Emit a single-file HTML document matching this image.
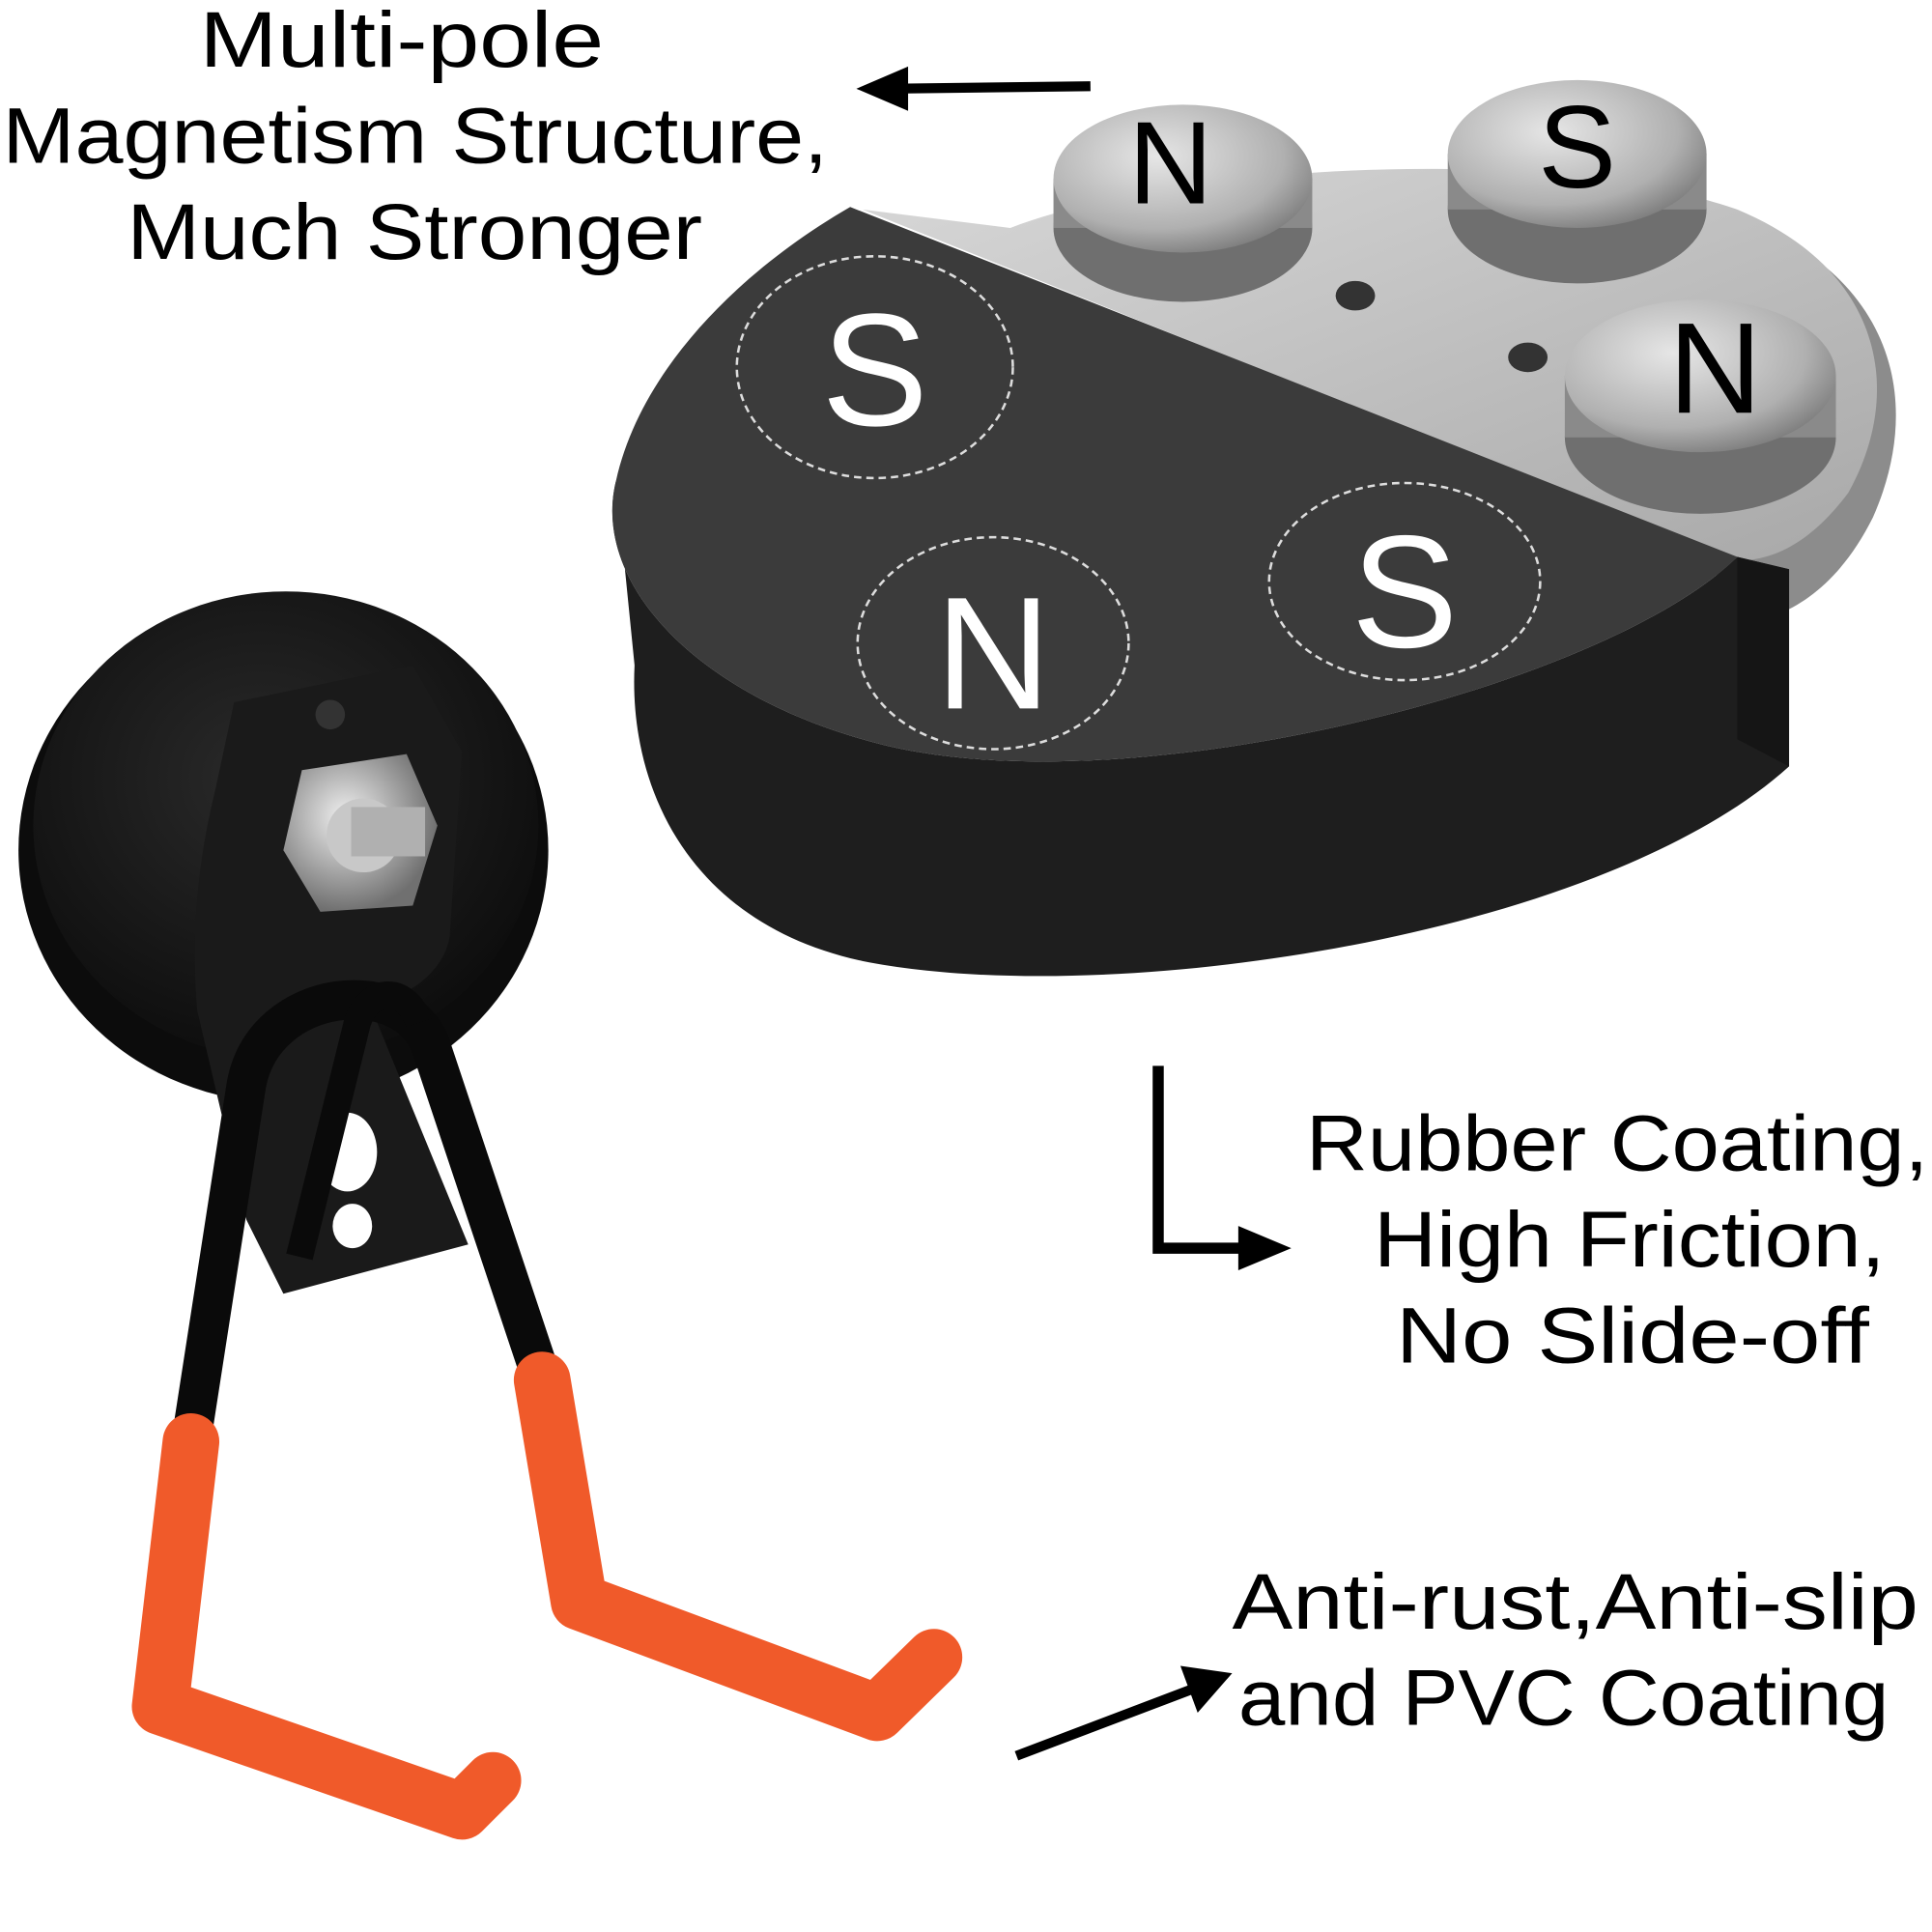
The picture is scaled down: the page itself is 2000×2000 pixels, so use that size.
<!DOCTYPE html>
<html><head><meta charset="utf-8"><style>
html,body{margin:0;padding:0;background:#fff;width:2000px;height:2000px;overflow:hidden}
svg{display:block}
text{font-family:"Liberation Sans",sans-serif;fill:#000}
</style></head><body>
<svg width="2000" height="2000" viewBox="0 0 1568 1568" xmlns="http://www.w3.org/2000/svg">
<defs>
<radialGradient id="mg" cx="0.4" cy="0.35" r="0.7"><stop offset="0" stop-color="#e6e6e6"/><stop offset="0.7" stop-color="#b0b0b0"/><stop offset="1" stop-color="#7a7a7a"/></radialGradient>
<linearGradient id="base" x1="0" y1="0" x2="1" y2="1"><stop offset="0" stop-color="#d8d8d8"/><stop offset="1" stop-color="#a8a8a8"/></linearGradient>
<radialGradient id="disc" cx="0.45" cy="0.4" r="0.6"><stop offset="0" stop-color="#2a2a2a"/><stop offset="1" stop-color="#0e0e0e"/></radialGradient>
<radialGradient id="nut" cx="0.4" cy="0.4" r="0.6"><stop offset="0" stop-color="#f0f0f0"/><stop offset="1" stop-color="#707070"/></radialGradient>
</defs>

<!-- top text -->
<text x="162" y="54" font-size="64" textLength="328" lengthAdjust="spacingAndGlyphs">Multi-pole</text>
<text x="2" y="132" font-size="64" textLength="670" lengthAdjust="spacingAndGlyphs">Magnetism Structure,</text>
<text x="103" y="210" font-size="64" textLength="467" lengthAdjust="spacingAndGlyphs">Much Stronger</text>
<line x1="885" y1="70" x2="720" y2="72" stroke="#000" stroke-width="8"/>
<polygon points="695,72 737,54 737,90" fill="#000"/>

<!-- gray base -->
<path d="M820,190 C950,140 1250,120 1420,180 C1540,230 1560,330 1520,420 C1490,480 1450,500 1420,505 L1400,470 Z" fill="#8c8c8c"/>
<path d="M820,185 C950,135 1250,115 1410,170 C1530,220 1545,320 1500,400 C1470,440 1440,455 1410,455 L700,170 Z" fill="url(#base)"/>
<ellipse cx="1100" cy="240" rx="16" ry="12" fill="#333"/>
<ellipse cx="1240" cy="290" rx="16" ry="12" fill="#333"/>

<!-- magnets -->
<g>
<ellipse cx="960" cy="185" rx="105" ry="60" fill="#6f6f6f"/>
<rect x="855" y="145" width="210" height="40" fill="#8a8a8a"/>
<ellipse cx="960" cy="145" rx="105" ry="60" fill="url(#mg)"/>
<ellipse cx="1280" cy="170" rx="105" ry="60" fill="#6f6f6f"/>
<rect x="1175" y="125" width="210" height="45" fill="#8a8a8a"/>
<ellipse cx="1280" cy="125" rx="105" ry="60" fill="url(#mg)"/>
<ellipse cx="1380" cy="355" rx="110" ry="62" fill="#6f6f6f"/>
<rect x="1270" y="305" width="220" height="50" fill="#8a8a8a"/>
<ellipse cx="1380" cy="305" rx="110" ry="62" fill="url(#mg)"/>
<text x="950" y="165" font-size="95" text-anchor="middle">N</text>
<text x="1280" y="152" font-size="95" text-anchor="middle">S</text>
<text x="1392" y="335" font-size="105" text-anchor="middle">N</text>
</g>

<!-- black rubber -->
<path d="M500,390 C480,470 560,560 700,600 C900,660 1300,560 1410,452 L1452,462 L1452,622 C1300,760 900,820 700,780 C560,750 510,640 515,540 Z" fill="#1e1e1e"/>
<path d="M690,168 L1410,452 C1300,560 900,660 700,600 C560,560 480,470 500,390 C520,300 600,220 690,168 Z" fill="#3b3b3b"/>
<path d="M1410,452 L1452,462 L1452,622 L1410,600 Z" fill="#151515"/>

<g fill="none" stroke="#ddd" stroke-width="2" stroke-dasharray="6,4">
<ellipse cx="710" cy="298" rx="112" ry="90"/>
<ellipse cx="806" cy="522" rx="110" ry="86"/>
<ellipse cx="1140" cy="472" rx="110" ry="80"/>
</g>
<g font-size="130" text-anchor="middle">
<text x="710" y="345" style="fill:#fff">S</text>
<text x="806" y="575" style="fill:#fff">N</text>
<text x="1140" y="525" style="fill:#fff">S</text>
</g>

<!-- right text -->
<text x="1060" y="950" font-size="64" textLength="505" lengthAdjust="spacingAndGlyphs">Rubber Coating,</text>
<text x="1115" y="1028" font-size="64" textLength="415" lengthAdjust="spacingAndGlyphs">High Friction,</text>
<text x="1133" y="1106" font-size="64" textLength="384" lengthAdjust="spacingAndGlyphs">No Slide-off</text>
<path d="M940,865 L940,1013 L1010,1013" fill="none" stroke="#000" stroke-width="9"/>
<polygon points="1048,1013 1005,995 1005,1031" fill="#000"/>

<text x="1000" y="1322" font-size="64" textLength="557" lengthAdjust="spacingAndGlyphs">Anti-rust,Anti-slip</text>
<text x="1005" y="1400" font-size="64" textLength="528" lengthAdjust="spacingAndGlyphs">and PVC Coating</text>
<line x1="825" y1="1425" x2="970" y2="1370" stroke="#000" stroke-width="8"/>
<polygon points="1000,1358 958,1352 972,1390" fill="#000"/>

<!-- hook -->
<ellipse cx="230" cy="690" rx="215" ry="205" fill="#0c0c0c"/>
<ellipse cx="232" cy="670" rx="205" ry="190" fill="url(#disc)"/>
<path d="M190,570 L335,540 L375,610 L365,760 C360,790 330,810 300,815 L380,1010 L230,1050 L200,990 L160,820 C155,760 160,700 175,640 Z" fill="#1a1a1a"/>
<circle cx="268" cy="580" r="12" fill="#333"/>
<ellipse cx="282" cy="935" rx="24" ry="32" fill="#fff"/>
<ellipse cx="286" cy="995" rx="16" ry="18" fill="#fff"/>
<polygon points="245,625 330,612 355,670 335,735 260,740 230,690" fill="url(#nut)"/>
<circle cx="295" cy="678" r="30" fill="#c8c8c8"/>
<rect x="285" y="655" width="60" height="40" fill="#b0b0b0"/>
<!-- wire -->
<path d="M155,1170 L200,880 C215,800 330,790 350,850 L440,1120" fill="none" stroke="#0a0a0a" stroke-width="32" stroke-linejoin="round"/>
<path d="M243,1020 L290,830 C300,800 330,800 340,830" fill="none" stroke="#0a0a0a" stroke-width="22"/>
<path d="M155,1170 L130,1385 L375,1470 L400,1445" fill="none" stroke="#f05a2a" stroke-width="46" stroke-linejoin="round" stroke-linecap="round"/>
<path d="M440,1120 L470,1300 L712,1390 L758,1345" fill="none" stroke="#f05a2a" stroke-width="46" stroke-linejoin="round" stroke-linecap="round"/>
</svg>
</body></html>
